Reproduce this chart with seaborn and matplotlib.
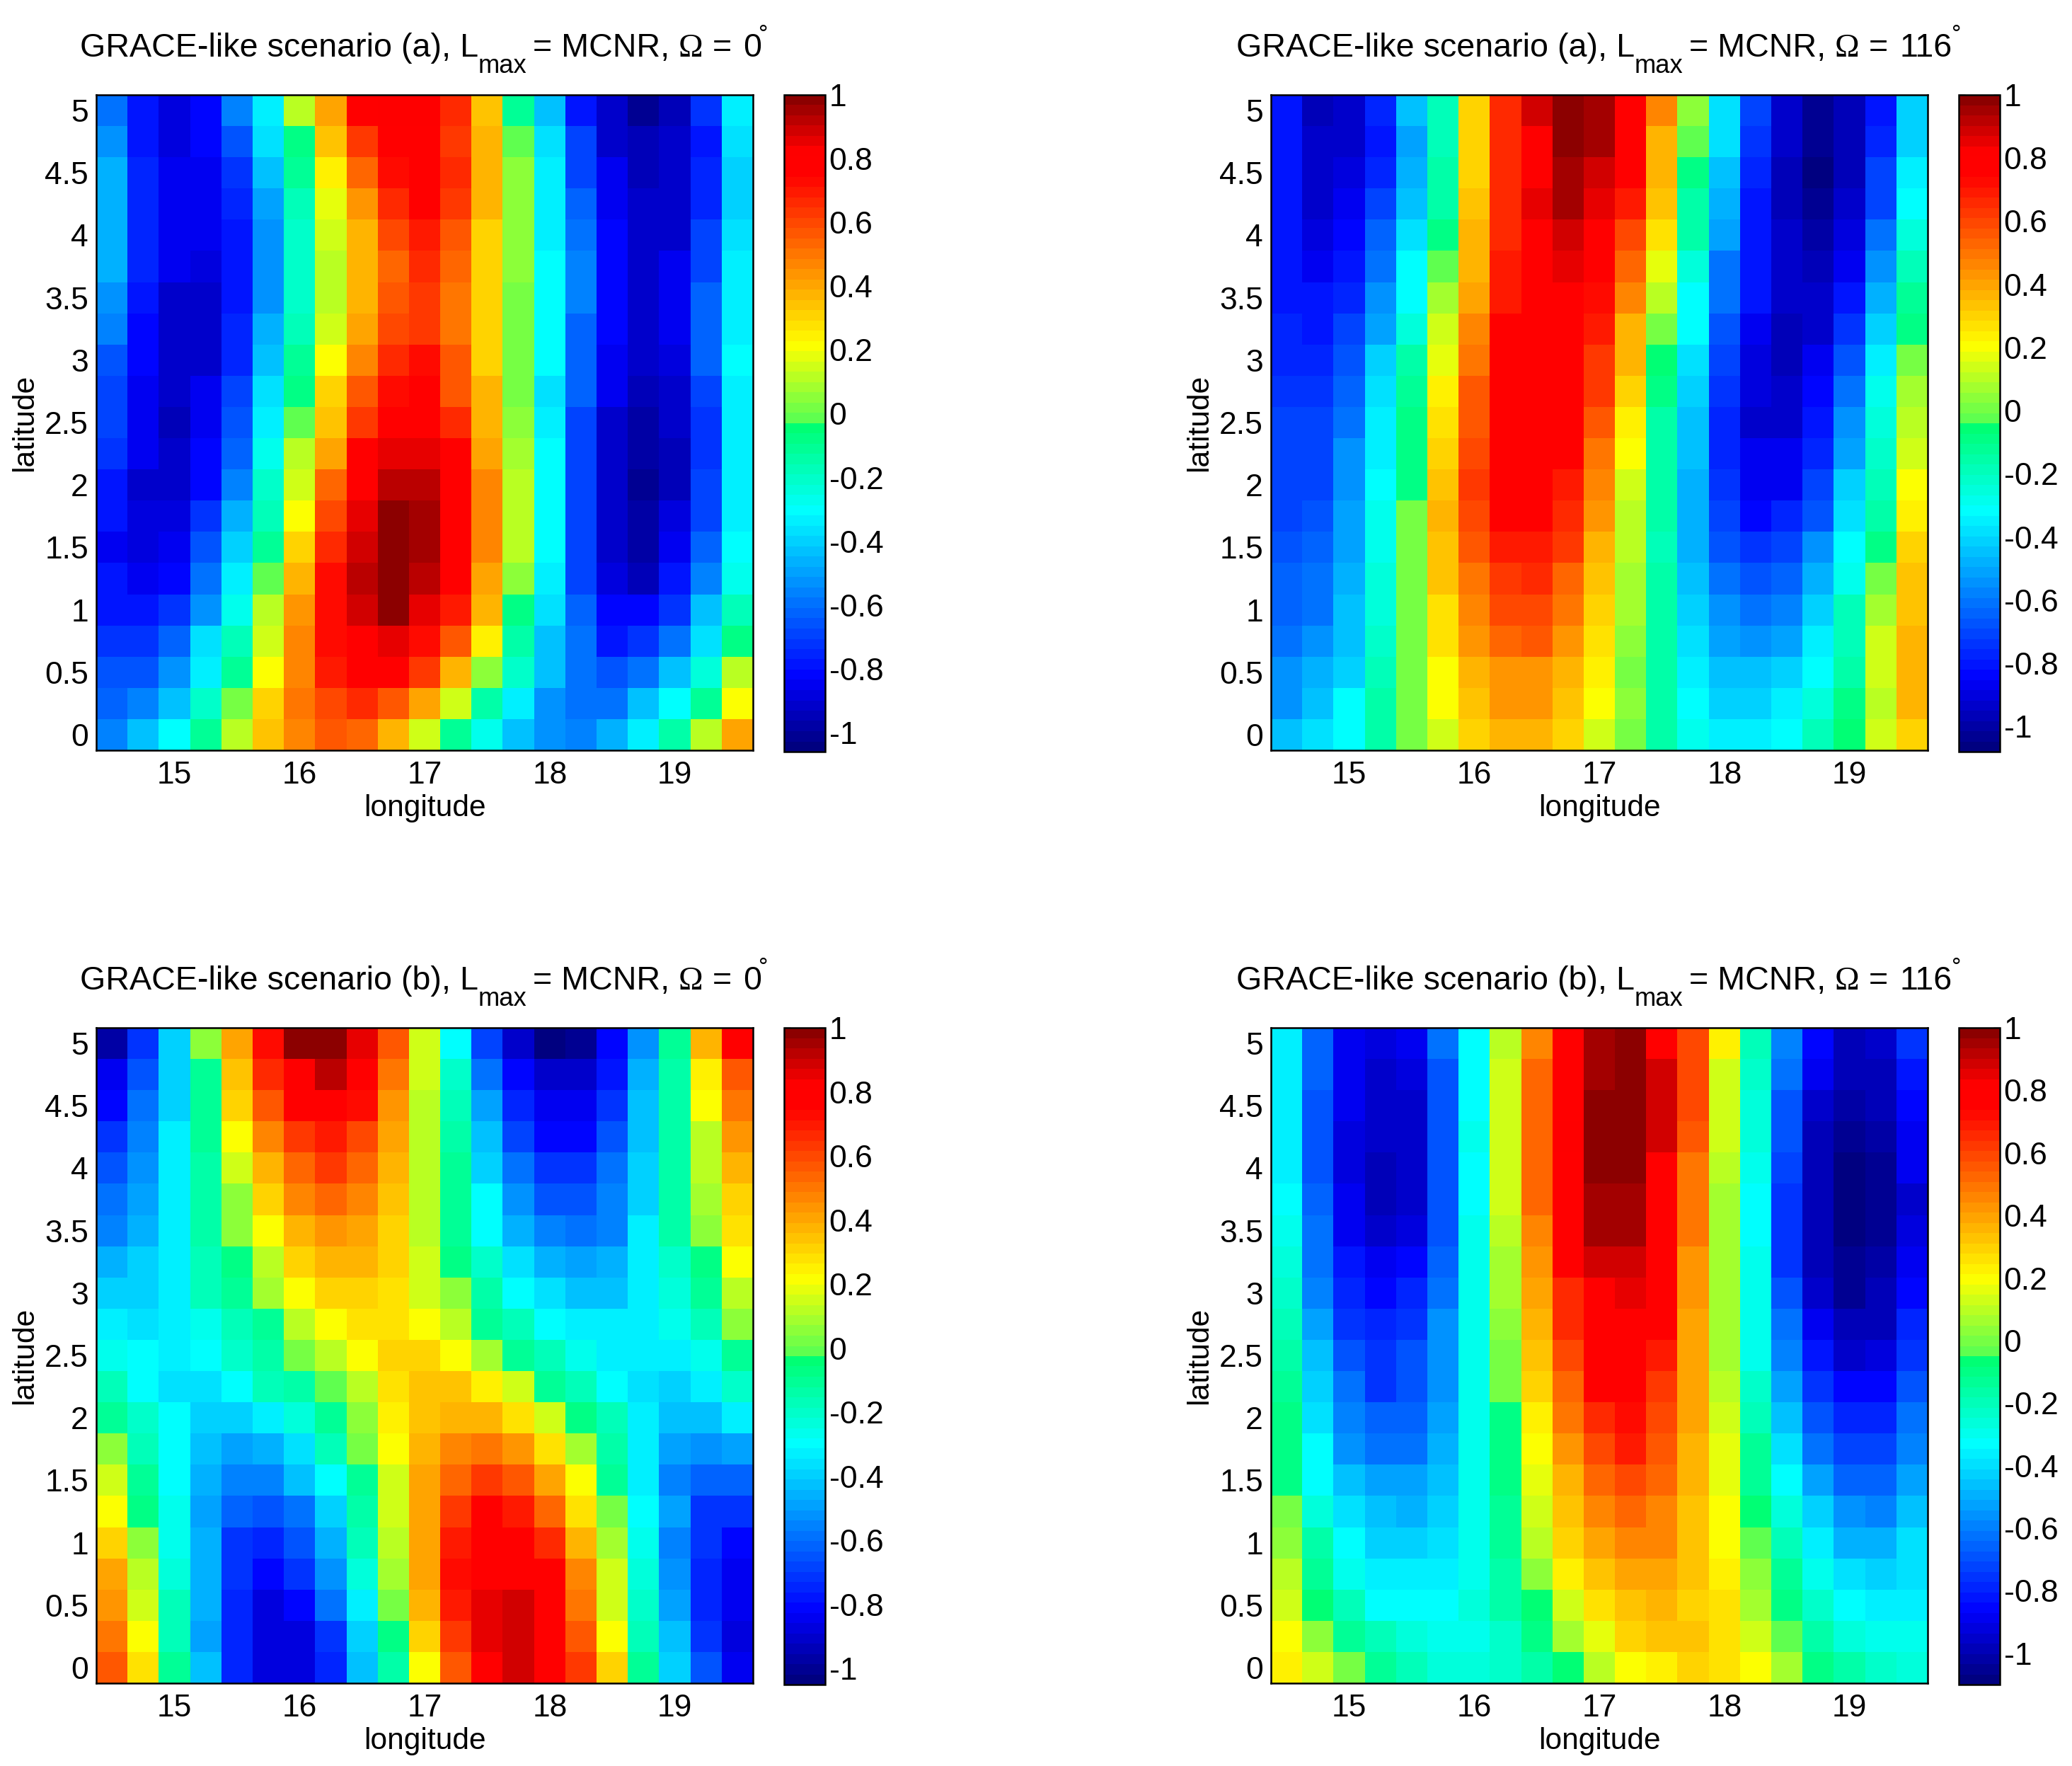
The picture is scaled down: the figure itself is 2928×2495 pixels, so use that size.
import numpy as np
import pandas as pd
import matplotlib
matplotlib.use('Agg')
import matplotlib.pyplot as plt
from matplotlib.colors import LinearSegmentedColormap
import seaborn as sns

# grid of the correlation maps, rows run from north to south
lons = [14.5, 14.75, 15, 15.25, 15.5, 15.75, 16, 16.25, 16.5, 16.75, 17, 17.25, 17.5, 17.75, 18, 18.25, 18.5, 18.75, 19, 19.25, 19.5]
lats = [5, 4.75, 4.5, 4.25, 4, 3.75, 3.5, 3.25, 3, 2.75, 2.5, 2.25, 2, 1.75, 1.5, 1.25, 1, 0.75, 0.5, 0.25, 0]
lon_ticks = [15, 16, 17, 18, 19]
lat_ticks = [5, 4.5, 4, 3.5, 3, 2.5, 2, 1.5, 1, 0.5, 0]
lat_tick_labels = ['5', '4.5', '4', '3.5', '3', '2.5', '2', '1.5', '1', '0.5', '0']
cbar_ticks = [-1, -0.8, -0.6, -0.4, -0.2, 0, 0.2, 0.4, 0.6, 0.8, 1]
cbar_tick_labels = ['-1', '-0.8', '-0.6', '-0.4', '-0.2', '0', '0.2', '0.4', '0.6', '0.8', '1']

# scenario (a), omega = 0
map_a_0 = [
    [-0.58,-0.80,-0.88,-0.82,-0.56,-0.33,0.12,0.42,0.75,0.82,0.82,0.65,0.33,-0.12,-0.44,-0.78,-0.92,-1.0,-0.95,-0.72,-0.34],
    [-0.52,-0.80,-0.87,-0.82,-0.67,-0.38,-0.08,0.35,0.62,0.76,0.76,0.64,0.37,0.0,-0.38,-0.70,-0.90,-0.96,-0.92,-0.78,-0.38],
    [-0.48,-0.76,-0.86,-0.85,-0.72,-0.44,-0.12,0.23,0.54,0.74,0.76,0.66,0.38,0.04,-0.34,-0.68,-0.86,-0.94,-0.90,-0.74,-0.40],
    [-0.46,-0.75,-0.85,-0.85,-0.75,-0.50,-0.18,0.18,0.45,0.66,0.75,0.63,0.38,0.04,-0.32,-0.62,-0.84,-0.93,-0.90,-0.74,-0.40],
    [-0.46,-0.76,-0.85,-0.86,-0.78,-0.52,-0.20,0.14,0.38,0.60,0.70,0.58,0.32,0.04,-0.32,-0.58,-0.83,-0.92,-0.90,-0.70,-0.38],
    [-0.47,-0.76,-0.86,-0.88,-0.78,-0.52,-0.22,0.10,0.38,0.54,0.65,0.52,0.32,0.04,-0.31,-0.57,-0.82,-0.90,-0.86,-0.68,-0.34],
    [-0.52,-0.80,-0.92,-0.90,-0.78,-0.52,-0.20,0.12,0.38,0.58,0.63,0.50,0.31,0.02,-0.31,-0.57,-0.82,-0.90,-0.86,-0.64,-0.33],
    [-0.57,-0.83,-0.93,-0.90,-0.75,-0.46,-0.16,0.16,0.42,0.60,0.63,0.50,0.32,0.02,-0.31,-0.62,-0.83,-0.90,-0.84,-0.64,-0.33],
    [-0.66,-0.83,-0.91,-0.90,-0.74,-0.42,-0.12,0.22,0.47,0.66,0.74,0.55,0.32,0.02,-0.31,-0.62,-0.84,-0.92,-0.88,-0.62,-0.29],
    [-0.68,-0.84,-0.92,-0.86,-0.70,-0.38,-0.08,0.30,0.55,0.74,0.75,0.58,0.36,0.02,-0.36,-0.64,-0.86,-0.96,-0.90,-0.70,-0.32],
    [-0.70,-0.86,-0.95,-0.84,-0.65,-0.33,-0.02,0.35,0.62,0.75,0.75,0.67,0.38,0.04,-0.33,-0.68,-0.90,-0.98,-0.92,-0.72,-0.32],
    [-0.72,-0.86,-0.93,-0.82,-0.62,-0.27,0.10,0.42,0.75,0.84,0.86,0.76,0.42,0.08,-0.31,-0.70,-0.90,-0.99,-0.94,-0.72,-0.32],
    [-0.78,-0.92,-0.92,-0.82,-0.55,-0.20,0.16,0.52,0.76,0.92,0.92,0.77,0.46,0.11,-0.31,-0.70,-0.90,-1.0,-0.95,-0.70,-0.32],
    [-0.78,-0.88,-0.88,-0.72,-0.46,-0.16,0.22,0.60,0.86,1.0,0.96,0.77,0.46,0.10,-0.31,-0.70,-0.90,-0.99,-0.88,-0.70,-0.32],
    [-0.84,-0.88,-0.85,-0.66,-0.40,-0.10,0.32,0.66,0.90,1.0,0.96,0.76,0.46,0.10,-0.31,-0.68,-0.90,-0.98,-0.84,-0.64,-0.31],
    [-0.80,-0.86,-0.82,-0.60,-0.33,0.0,0.38,0.72,0.92,0.99,0.92,0.76,0.42,0.05,-0.34,-0.68,-0.88,-0.94,-0.80,-0.56,-0.26],
    [-0.78,-0.80,-0.72,-0.52,-0.26,0.10,0.43,0.74,0.90,0.97,0.86,0.68,0.36,-0.08,-0.38,-0.62,-0.82,-0.83,-0.72,-0.44,-0.18],
    [-0.72,-0.72,-0.64,-0.38,-0.18,0.16,0.47,0.74,0.80,0.85,0.74,0.56,0.24,-0.14,-0.42,-0.60,-0.78,-0.72,-0.60,-0.36,-0.08],
    [-0.66,-0.65,-0.52,-0.32,-0.10,0.22,0.46,0.68,0.76,0.76,0.62,0.38,0.05,-0.20,-0.44,-0.58,-0.66,-0.60,-0.42,-0.24,0.10],
    [-0.63,-0.55,-0.42,-0.22,0.02,0.30,0.50,0.61,0.66,0.58,0.40,0.16,-0.14,-0.34,-0.52,-0.58,-0.58,-0.44,-0.31,-0.10,0.22],
    [-0.56,-0.44,-0.30,-0.12,0.12,0.34,0.46,0.55,0.52,0.36,0.16,-0.12,-0.28,-0.44,-0.54,-0.56,-0.46,-0.32,-0.15,0.12,0.42],
]

# scenario (a), omega = 116
map_a_116 = [
    [-0.80,-0.96,-0.92,-0.78,-0.46,-0.20,0.30,0.66,0.90,1.0,0.96,0.74,0.45,0.05,-0.38,-0.72,-0.93,-1.02,-0.97,-0.80,-0.40],
    [-0.80,-0.95,-0.92,-0.80,-0.50,-0.18,0.30,0.66,0.82,0.99,0.95,0.74,0.38,-0.02,-0.38,-0.74,-0.95,-1.03,-0.98,-0.76,-0.40],
    [-0.80,-0.93,-0.90,-0.76,-0.48,-0.15,0.30,0.66,0.82,0.96,0.88,0.74,0.36,-0.10,-0.44,-0.76,-0.96,-1.05,-0.96,-0.72,-0.34],
    [-0.80,-0.92,-0.88,-0.70,-0.44,-0.14,0.33,0.66,0.84,0.94,0.86,0.68,0.33,-0.14,-0.48,-0.80,-0.96,-1.03,-0.94,-0.70,-0.32],
    [-0.80,-0.90,-0.84,-0.65,-0.38,-0.09,0.36,0.65,0.78,0.90,0.80,0.60,0.26,-0.17,-0.52,-0.80,-0.95,-1.00,-0.90,-0.62,-0.24],
    [-0.80,-0.87,-0.82,-0.62,-0.33,-0.01,0.38,0.70,0.78,0.84,0.76,0.52,0.16,-0.24,-0.60,-0.82,-0.95,-0.98,-0.86,-0.56,-0.18],
    [-0.80,-0.82,-0.76,-0.56,-0.32,0.08,0.40,0.70,0.76,0.76,0.73,0.46,0.10,-0.33,-0.62,-0.82,-0.94,-0.95,-0.80,-0.48,-0.12],
    [-0.77,-0.80,-0.72,-0.50,-0.24,0.14,0.46,0.75,0.74,0.74,0.70,0.38,0.02,-0.33,-0.68,-0.88,-0.96,-0.92,-0.74,-0.42,-0.08],
    [-0.76,-0.78,-0.66,-0.42,-0.17,0.16,0.50,0.75,0.78,0.76,0.64,0.36,-0.07,-0.38,-0.72,-0.90,-0.96,-0.88,-0.68,-0.36,0.0],
    [-0.74,-0.74,-0.65,-0.38,-0.12,0.23,0.56,0.74,0.80,0.76,0.62,0.30,-0.10,-0.40,-0.74,-0.90,-0.95,-0.83,-0.62,-0.30,0.08],
    [-0.72,-0.72,-0.60,-0.36,-0.09,0.28,0.56,0.76,0.77,0.76,0.56,0.24,-0.14,-0.44,-0.77,-0.92,-0.92,-0.80,-0.56,-0.24,0.11],
    [-0.72,-0.72,-0.56,-0.34,-0.08,0.30,0.60,0.76,0.76,0.76,0.50,0.19,-0.14,-0.46,-0.76,-0.88,-0.88,-0.76,-0.50,-0.22,0.15],
    [-0.70,-0.70,-0.54,-0.31,-0.08,0.33,0.62,0.76,0.76,0.70,0.47,0.14,-0.16,-0.48,-0.74,-0.86,-0.86,-0.72,-0.42,-0.18,0.20],
    [-0.70,-0.66,-0.52,-0.28,0.02,0.36,0.60,0.75,0.74,0.66,0.44,0.12,-0.17,-0.48,-0.70,-0.84,-0.78,-0.66,-0.38,-0.14,0.24],
    [-0.68,-0.64,-0.50,-0.28,0.02,0.32,0.56,0.68,0.68,0.62,0.38,0.10,-0.18,-0.48,-0.66,-0.74,-0.72,-0.56,-0.33,-0.10,0.30],
    [-0.64,-0.62,-0.48,-0.26,0.02,0.32,0.50,0.62,0.66,0.54,0.32,0.08,-0.17,-0.44,-0.62,-0.68,-0.64,-0.48,-0.28,0.00,0.32],
    [-0.64,-0.60,-0.46,-0.24,0.02,0.26,0.46,0.58,0.58,0.50,0.30,0.08,-0.16,-0.40,-0.56,-0.60,-0.58,-0.42,-0.20,0.08,0.32],
    [-0.62,-0.56,-0.44,-0.22,0.02,0.27,0.42,0.52,0.57,0.44,0.28,0.05,-0.16,-0.37,-0.52,-0.54,-0.52,-0.36,-0.18,0.13,0.36],
    [-0.54,-0.48,-0.40,-0.18,0.02,0.20,0.36,0.44,0.44,0.38,0.24,0.02,-0.16,-0.34,-0.46,-0.46,-0.40,-0.32,-0.14,0.13,0.37],
    [-0.54,-0.46,-0.33,-0.17,0.02,0.20,0.34,0.43,0.44,0.32,0.20,0.04,-0.15,-0.32,-0.42,-0.40,-0.36,-0.26,-0.10,0.12,0.37],
    [-0.46,-0.39,-0.31,-0.14,0.02,0.14,0.30,0.36,0.36,0.30,0.15,0.02,-0.17,-0.30,-0.36,-0.35,-0.31,-0.19,-0.07,0.14,0.30],
]

# scenario (b), omega = 0
map_b_0 = [
    [-0.98,-0.72,-0.38,0.05,0.42,0.74,1.0,1.0,0.85,0.58,0.16,-0.30,-0.68,-0.92,-1.02,-1.0,-0.82,-0.52,-0.12,0.36,0.75],
    [-0.84,-0.66,-0.38,-0.12,0.35,0.66,0.82,0.92,0.77,0.50,0.14,-0.20,-0.60,-0.82,-0.92,-0.92,-0.78,-0.46,-0.14,0.26,0.58],
    [-0.80,-0.60,-0.38,-0.12,0.30,0.58,0.76,0.76,0.72,0.44,0.13,-0.16,-0.50,-0.74,-0.84,-0.84,-0.72,-0.42,-0.14,0.20,0.50],
    [-0.72,-0.56,-0.33,-0.12,0.20,0.47,0.64,0.68,0.60,0.42,0.12,-0.14,-0.42,-0.68,-0.80,-0.80,-0.66,-0.42,-0.14,0.13,0.44],
    [-0.64,-0.52,-0.33,-0.14,0.14,0.38,0.54,0.62,0.52,0.38,0.12,-0.12,-0.38,-0.60,-0.72,-0.72,-0.60,-0.38,-0.14,0.12,0.38],
    [-0.58,-0.48,-0.33,-0.14,0.07,0.32,0.46,0.53,0.47,0.33,0.11,-0.10,-0.31,-0.52,-0.66,-0.66,-0.56,-0.38,-0.14,0.09,0.32],
    [-0.56,-0.46,-0.33,-0.14,0.04,0.22,0.38,0.44,0.40,0.32,0.12,-0.09,-0.31,-0.46,-0.56,-0.58,-0.54,-0.34,-0.15,0.04,0.28],
    [-0.46,-0.40,-0.33,-0.18,-0.08,0.13,0.30,0.36,0.36,0.30,0.15,-0.08,-0.20,-0.36,-0.46,-0.48,-0.45,-0.34,-0.20,-0.06,0.21],
    [-0.38,-0.38,-0.33,-0.18,-0.12,0.08,0.20,0.32,0.32,0.27,0.16,0.04,-0.14,-0.30,-0.36,-0.41,-0.41,-0.33,-0.24,-0.12,0.12],
    [-0.33,-0.36,-0.33,-0.26,-0.16,-0.09,0.11,0.20,0.28,0.28,0.20,0.12,-0.09,-0.18,-0.29,-0.33,-0.34,-0.34,-0.27,-0.16,0.04],
    [-0.26,-0.31,-0.33,-0.31,-0.20,-0.15,0.02,0.12,0.20,0.30,0.30,0.22,0.10,-0.09,-0.18,-0.27,-0.34,-0.34,-0.32,-0.27,-0.09],
    [-0.17,-0.30,-0.35,-0.35,-0.30,-0.18,-0.13,0.0,0.12,0.27,0.33,0.33,0.24,0.14,-0.10,-0.16,-0.29,-0.36,-0.38,-0.34,-0.20],
    [-0.10,-0.20,-0.31,-0.38,-0.40,-0.33,-0.24,-0.12,0.06,0.24,0.34,0.38,0.38,0.28,0.14,-0.08,-0.18,-0.34,-0.42,-0.42,-0.33],
    [0.05,-0.16,-0.31,-0.44,-0.48,-0.46,-0.36,-0.17,0.02,0.20,0.38,0.47,0.50,0.44,0.28,0.08,-0.14,-0.33,-0.50,-0.52,-0.50],
    [0.14,-0.12,-0.31,-0.46,-0.54,-0.54,-0.44,-0.29,-0.10,0.16,0.42,0.55,0.62,0.58,0.40,0.20,-0.10,-0.33,-0.56,-0.62,-0.62],
    [0.22,-0.08,-0.27,-0.48,-0.62,-0.66,-0.58,-0.38,-0.14,0.14,0.42,0.64,0.75,0.70,0.55,0.28,0.02,-0.31,-0.50,-0.70,-0.72],
    [0.32,0.06,-0.26,-0.46,-0.70,-0.74,-0.66,-0.46,-0.18,0.13,0.42,0.68,0.76,0.76,0.65,0.38,0.10,-0.26,-0.54,-0.72,-0.82],
    [0.40,0.12,-0.22,-0.46,-0.72,-0.82,-0.72,-0.52,-0.24,0.09,0.42,0.72,0.78,0.78,0.76,0.46,0.15,-0.24,-0.52,-0.74,-0.85],
    [0.44,0.14,-0.18,-0.46,-0.76,-0.86,-0.82,-0.60,-0.32,0.02,0.38,0.68,0.85,0.90,0.78,0.50,0.16,-0.20,-0.50,-0.74,-0.85],
    [0.50,0.21,-0.16,-0.48,-0.76,-0.86,-0.86,-0.70,-0.38,-0.08,0.30,0.62,0.84,0.90,0.78,0.58,0.22,-0.16,-0.44,-0.70,-0.86],
    [0.58,0.28,-0.12,-0.44,-0.74,-0.86,-0.86,-0.74,-0.44,-0.14,0.22,0.56,0.80,0.90,0.78,0.64,0.32,-0.10,-0.38,-0.66,-0.84],
]

# scenario (b), omega = 116
map_b_116 = [
    [-0.36,-0.66,-0.88,-0.92,-0.90,-0.64,-0.32,0.10,0.46,0.76,0.94,0.98,0.80,0.58,0.22,-0.20,-0.58,-0.86,-1.0,-0.95,-0.76],
    [-0.36,-0.66,-0.88,-0.95,-0.92,-0.68,-0.32,0.12,0.52,0.76,0.96,1.0,0.90,0.60,0.14,-0.22,-0.64,-0.90,-1.0,-0.98,-0.82],
    [-0.36,-0.68,-0.90,-0.96,-0.94,-0.70,-0.32,0.12,0.54,0.76,1.0,1.0,0.88,0.60,0.13,-0.25,-0.68,-0.94,-1.02,-1.0,-0.84],
    [-0.36,-0.70,-0.92,-0.96,-0.94,-0.70,-0.28,0.12,0.54,0.82,1.0,1.0,0.88,0.56,0.13,-0.26,-0.70,-0.98,-1.06,-1.02,-0.88],
    [-0.36,-0.68,-0.92,-0.98,-0.95,-0.70,-0.32,0.12,0.54,0.76,1.02,1.02,0.80,0.50,0.10,-0.30,-0.72,-1.0,-1.07,-1.04,-0.90],
    [-0.32,-0.66,-0.90,-0.97,-0.94,-0.70,-0.32,0.12,0.52,0.76,0.96,0.96,0.78,0.50,0.08,-0.32,-0.74,-1.0,-1.08,-1.05,-0.94],
    [-0.30,-0.64,-0.88,-0.94,-0.92,-0.68,-0.31,0.10,0.46,0.76,0.94,0.94,0.76,0.48,0.08,-0.32,-0.74,-1.0,-1.10,-1.06,-0.92],
    [-0.26,-0.62,-0.82,-0.88,-0.84,-0.66,-0.31,0.07,0.42,0.76,0.90,0.90,0.76,0.44,0.08,-0.31,-0.74,-0.98,-1.06,-1.02,-0.88],
    [-0.24,-0.58,-0.78,-0.84,-0.80,-0.64,-0.30,0.08,0.40,0.66,0.80,0.86,0.76,0.42,0.08,-0.31,-0.68,-0.94,-1.04,-1.0,-0.84],
    [-0.20,-0.52,-0.74,-0.80,-0.76,-0.56,-0.30,0.03,0.36,0.64,0.78,0.78,0.76,0.40,0.08,-0.31,-0.64,-0.88,-1.0,-0.98,-0.78],
    [-0.17,-0.47,-0.70,-0.76,-0.70,-0.56,-0.31,0.0,0.33,0.60,0.76,0.76,0.68,0.38,0.08,-0.30,-0.60,-0.82,-0.96,-0.93,-0.74],
    [-0.13,-0.44,-0.64,-0.74,-0.68,-0.56,-0.31,0.0,0.30,0.54,0.76,0.76,0.62,0.38,0.10,-0.24,-0.54,-0.74,-0.86,-0.86,-0.68],
    [-0.10,-0.38,-0.60,-0.66,-0.66,-0.54,-0.31,-0.10,0.22,0.50,0.66,0.72,0.60,0.38,0.14,-0.20,-0.46,-0.68,-0.80,-0.80,-0.62],
    [-0.10,-0.34,-0.56,-0.62,-0.62,-0.50,-0.31,-0.10,0.20,0.42,0.58,0.68,0.56,0.37,0.15,-0.12,-0.40,-0.62,-0.72,-0.72,-0.58],
    [-0.11,-0.33,-0.47,-0.53,-0.53,-0.46,-0.31,-0.10,0.16,0.36,0.52,0.58,0.52,0.37,0.17,-0.12,-0.33,-0.54,-0.66,-0.66,-0.52],
    [0.0,-0.25,-0.40,-0.46,-0.48,-0.43,-0.31,-0.12,0.12,0.32,0.46,0.54,0.47,0.32,0.18,-0.08,-0.26,-0.44,-0.55,-0.58,-0.46],
    [0.04,-0.18,-0.34,-0.42,-0.44,-0.40,-0.31,-0.14,0.10,0.28,0.40,0.46,0.46,0.33,0.21,-0.02,-0.20,-0.37,-0.48,-0.48,-0.40],
    [0.10,-0.14,-0.28,-0.37,-0.37,-0.37,-0.31,-0.16,0.04,0.22,0.33,0.40,0.40,0.32,0.22,0.04,-0.14,-0.31,-0.38,-0.42,-0.38],
    [0.14,-0.08,-0.20,-0.33,-0.33,-0.33,-0.26,-0.16,-0.08,0.14,0.25,0.34,0.36,0.30,0.26,0.06,-0.10,-0.22,-0.32,-0.36,-0.36],
    [0.18,0.04,-0.12,-0.20,-0.26,-0.30,-0.28,-0.22,-0.10,0.08,0.17,0.28,0.32,0.32,0.26,0.14,-0.02,-0.16,-0.25,-0.31,-0.31],
    [0.22,0.12,0.0,-0.14,-0.19,-0.27,-0.26,-0.22,-0.15,-0.08,0.10,0.18,0.24,0.28,0.26,0.18,0.06,-0.11,-0.18,-0.24,-0.27],
]

sns.set_style('white')
plt.rcParams['font.family'] = ['Liberation Sans', 'DejaVu Sans']
plt.rcParams['text.color'] = 'black'

W, H = 2928, 2495
DPI = 200
fig = plt.figure(figsize=(W / DPI, H / DPI), dpi=DPI)

# jet-like map of the original, it has a hard step from spring green to light green at 0
grace_jet = LinearSegmentedColormap.from_list('grace_jet', [
    (0.0, (0, 0, 0.5)),
    (0.107, (0, 0, 1)),
    (0.364, (0, 1, 1)),
    (0.5, (0, 1, 0.42)),
    (0.5, (0.33, 1, 0.33)),
    (0.621, (1, 1, 0)),
    (0.883, (1, 0, 0)),
    (0.92, (1, 0, 0)),
    (1.0, (0.55, 0, 0)),
], N=64)


def px_axes(left, top, right, bottom):
    # axes from pixel edges measured on the reference
    return fig.add_axes([left / W, 1 - bottom / H, (right - left) / W, (bottom - top) / H])


def draw_title(left, top, scenario, omega):
    # pieces are placed one by one because of the wide subscript gap in the original
    x0 = left - 23 if omega == '0' else left - 49
    base = top - 54
    size = 16.8
    tail = 937
    fig.text((x0) / W, 1 - base / H, 'GRACE-like scenario (%s), L' % scenario, fontsize=size, va='baseline')
    fig.text((x0 + 563) / W, 1 - (base + 23) / H, 'max', fontsize=size * 0.78, va='baseline')
    fig.text((x0 + 640) / W, 1 - base / H, '= MCNR,', fontsize=size, va='baseline')
    fig.text((x0 + 846) / W, 1 - base / H, '\u03a9', fontsize=size, va='baseline', family='Liberation Serif')
    fig.text((x0 + 894) / W, 1 - base / H, '=', fontsize=size, va='baseline')
    fig.text((x0 + tail) / W, 1 - base / H, omega, fontsize=size, va='baseline')
    fig.text((x0 + tail + 26 * len(omega) - 4) / W, 1 - (base - 22) / H, '\u00b0', fontsize=size * 0.72, va='baseline')


panels = [
    (map_a_0, 'a', '0', 136, 134, -1.06),
    (map_a_116, 'a', '116', 1796, 134, -1.08),
    (map_b_0, 'b', '0', 136, 1452, -1.05),
    (map_b_116, 'b', '116', 1796, 1452, -1.10),
]

for values, scenario, omega, left, top, vmin in panels:
    right, bottom = left + 928, top + 926
    ax = px_axes(left, top, right, bottom)
    cax = px_axes(right + 44, top, right + 102, bottom + 2)
    df = pd.DataFrame(values, index=lats, columns=lons)
    sns.heatmap(df, ax=ax, cbar_ax=cax, cmap=grace_jet, vmin=vmin, vmax=1.0, linewidths=0)

    ax.set_xticks([lons.index(t) + 0.5 for t in lon_ticks])
    ax.set_xticklabels([str(t) for t in lon_ticks], rotation=0)
    ax.set_yticks([lats.index(t) + 0.5 for t in lat_ticks])
    ax.set_yticklabels(lat_tick_labels, rotation=0, va='center_baseline')
    ax.tick_params(direction='in', length=3.3, width=0.5, top=True, right=True, bottom=True, left=True,
                   labelsize=16, color='black', labelcolor='black')
    ax.tick_params(axis='x', pad=5.5)
    ax.tick_params(axis='y', pad=4)
    for s in ax.spines.values():
        s.set_visible(True)
        s.set_linewidth(0.9)
        s.set_color('black')
    ax.set_xlabel('longitude', fontsize=15.3, labelpad=2, color='black')
    ax.set_ylabel('latitude', fontsize=15.3, labelpad=0, color='black')
    ax.yaxis.set_label_coords(-81 / 928, 0.5)

    cbar = ax.collections[0].colorbar
    cbar.set_ticks(cbar_ticks)
    cbar.set_ticklabels(cbar_tick_labels)
    cax.tick_params(direction='in', length=3.3, width=0.5, left=True, right=True, labelsize=16, pad=2,
                    color='black', labelcolor='black')
    cbar.outline.set_visible(True)
    cbar.outline.set_linewidth(0.9)
    cbar.outline.set_edgecolor('black')

    draw_title(left, top, scenario, omega)

fig.savefig('out.png', dpi=DPI, facecolor='white')
